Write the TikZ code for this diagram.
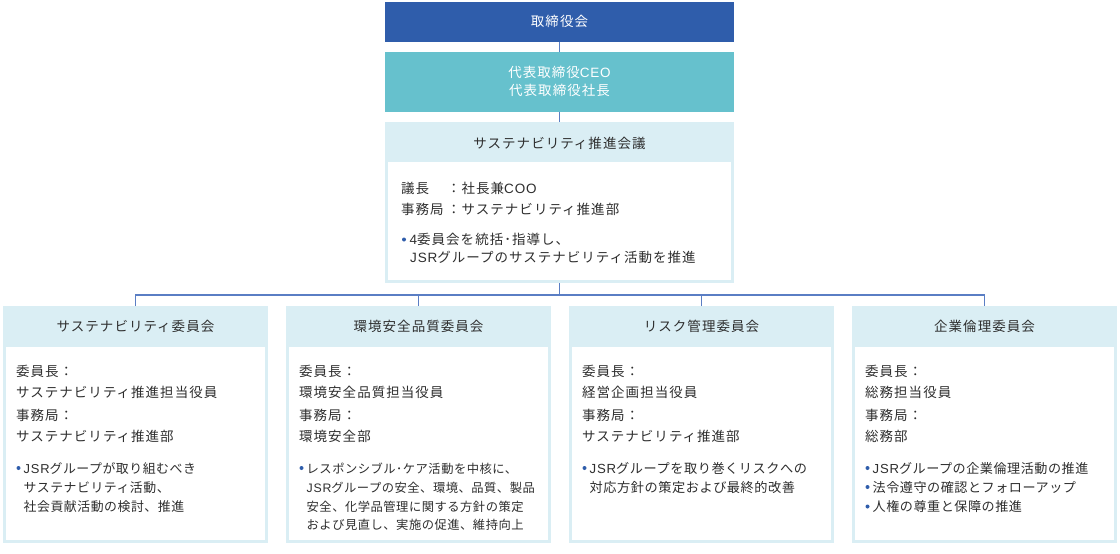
\documentclass[tikz,border=0pt]{standalone}
\usepackage{fontspec}
\usetikzlibrary{calc}
\newfontfamily\jp{Noto Sans CJK JP}[LetterSpace=7.5]
\newfontfamily\jpb{Noto Sans CJK JP}[LetterSpace=4]
\newfontfamily\latf{Liberation Sans}[LetterSpace=6]
\newcommand\lat[1]{{\latf #1}}
\definecolor{darkc}{HTML}{2F5DAB}
\definecolor{tealc}{HTML}{66C1CD}
\definecolor{lightc}{HTML}{DAEEF4}
\definecolor{linec}{HTML}{5A7EC4}
\definecolor{textc}{HTML}{2E2E2E}
\definecolor{bulc}{HTML}{2F5DAB}
\newcommand\tln[5]{\node[txt] (#2) at ($(#1.north west)+(#3,#4)$) {#5};}
\newcommand\bln[6]{\node[txt,#5] (#2) at ($(#1.north west)+(#3,#4)$) {#6};}
\newcommand\bdot[3]{\fill[bulc] ($(#1.north west)+(#2,#3)$) circle (2pt);}
\begin{document}
\begin{tikzpicture}[x=1pt,y=-1pt,
  ttl/.style={font=\jp\fontsize{13.5}{18}\selectfont, text=textc, inner sep=0, text height=11.9pt, text depth=1.6pt},
  txt/.style={ttl, anchor=west},
  bsz/.style={font=\jpb\fontsize{#1}{18}\selectfont},
  topbox/.style={rectangle, inner sep=0, outer sep=0, minimum width=349pt, font=\jp\fontsize{13.5}{18}\selectfont, text=white, align=center},
  panel/.style={rectangle, fill=lightc, minimum width=265pt, minimum height=237pt, inner sep=0, outer sep=0},
  link/.style={draw=linec, line width=1.1pt}]
\useasboundingbox (0,0) rectangle (1120,554);

% top chain
\node[topbox, fill=darkc, minimum height=39.5pt] (board) at (559.5,21.75) {取締役会};
\node[topbox, fill=tealc, minimum height=59.5pt] (ceo) at (559.5,81.75) {代表取締役\lat{CEO}\\代表取締役社長};
\node[rectangle, fill=lightc, minimum width=349pt, minimum height=161pt, inner sep=0, outer sep=0] (council) at (559.5,202.5) {};
\fill[white] ($(council.south west)+(3,-3)$) rectangle ($(council.north east)+(-3,40)$);
\node[ttl] (councilt) at ($(council.north)+(0,21)$) {サステナビリティ推進会議};
\tln{council}{k1a}{16}{66.5}{議長}
\tln{council}{k1b}{62}{66.5}{：社長兼\lat{COO}}
\tln{council}{k2a}{16}{87.5}{事務局}
\tln{council}{k2b}{62}{87.5}{：サステナビリティ推進部}
\bdot{council}{19}{117.5}
\tln{council}{k3}{24.5}{117.5}{\lat{4}委員会を統括･指導し、}
\tln{council}{k4}{25}{135.5}{\lat{JSR}グループのサステナビリティ活動を推進}

% committees
\node[panel] (c1) at (135.5,424.5) {};
\node[panel] (c2) at (418.5,424.5) {};
\node[panel] (c3) at (701.5,424.5) {};
\node[panel] (c4) at (984.5,424.5) {};
\foreach \c in {c1,c2,c3,c4}{
  \fill[white] ($(\c.south west)+(3,-3)$) rectangle ($(\c.north east)+(-3,41)$);
}
\node[ttl] (c1t) at ($(c1.north)+(0,20)$) {サステナビリティ委員会};
\node[ttl] (c2t) at ($(c2.north)+(0,20)$) {環境安全品質委員会};
\node[ttl] (c3t) at ($(c3.north)+(0,20)$) {リスク管理委員会};
\node[ttl] (c4t) at ($(c4.north)+(0,20)$) {企業倫理委員会};

% c1
\tln{c1}{c1a}{13}{65}{委員長：}
\tln{c1}{c1b}{13}{86}{サステナビリティ推進担当役員}
\tln{c1}{c1c}{13}{109}{事務局：}
\tln{c1}{c1d}{13}{130}{サステナビリティ推進部}
\bdot{c1}{15.5}{162}
\bln{c1}{c1e}{20.5}{162}{bsz=12.9}{\lat{JSR}グループが取り組むべき}
\bln{c1}{c1f}{20.5}{181}{bsz=12.9}{サステナビリティ活動、}
\bln{c1}{c1g}{20.5}{200}{bsz=12.9}{社会貢献活動の検討、推進}

% c2
\tln{c2}{c2a}{13}{65}{委員長：}
\tln{c2}{c2b}{13}{86}{環境安全品質担当役員}
\tln{c2}{c2c}{13}{109}{事務局：}
\tln{c2}{c2d}{13}{130}{環境安全部}
\bdot{c2}{15.5}{162}
\bln{c2}{c2e}{20.5}{162}{bsz=12.3}{レスポンシブル･ケア活動を中核に、}
\bln{c2}{c2f}{20.5}{181}{bsz=12.3}{\lat{JSR}グループの安全、環境、品質、製品}
\bln{c2}{c2g}{20.5}{200}{bsz=12.3}{安全、化学品管理に関する方針の策定}
\bln{c2}{c2h}{20.5}{218.5}{bsz=12.3}{および見直し、実施の促進、維持向上}

% c3
\tln{c3}{c3a}{13}{65}{委員長：}
\tln{c3}{c3b}{13}{86}{経営企画担当役員}
\tln{c3}{c3c}{13}{109}{事務局：}
\tln{c3}{c3d}{13}{130}{サステナビリティ推進部}
\bdot{c3}{15.5}{162}
\bln{c3}{c3e}{20.5}{162}{bsz=13.2}{\lat{JSR}グループを取り巻くリスクへの}
\bln{c3}{c3f}{20.5}{181}{bsz=13.2}{対応方針の策定および最終的改善}

% c4
\tln{c4}{c4a}{13}{65}{委員長：}
\tln{c4}{c4b}{13}{86}{総務担当役員}
\tln{c4}{c4c}{13}{109}{事務局：}
\tln{c4}{c4d}{13}{130}{総務部}
\bdot{c4}{15.5}{162}
\bln{c4}{c4e}{20.5}{162}{bsz=13.1}{\lat{JSR}グループの企業倫理活動の推進}
\bdot{c4}{15.5}{181}
\bln{c4}{c4f}{20.5}{181}{bsz=13.1}{法令遵守の確認とフォローアップ}
\bdot{c4}{15.5}{200.5}
\bln{c4}{c4g}{20.5}{200.5}{bsz=13.1}{人権の尊重と保障の推進}

% connectors
\draw[link] (board.south) -- (ceo.north);
\draw[link] (ceo.south) -- (council.north);
\coordinate (bus) at ($(council.south)+(0,12)$);
\draw[link] (council.south) -- (bus);
\draw[link] (c1.north) |- (bus) -| (c4.north);
\draw[link] (c2.north) -- (c2.north |- bus);
\draw[link] (c3.north) -- (c3.north |- bus);
\end{tikzpicture}
\end{document}
